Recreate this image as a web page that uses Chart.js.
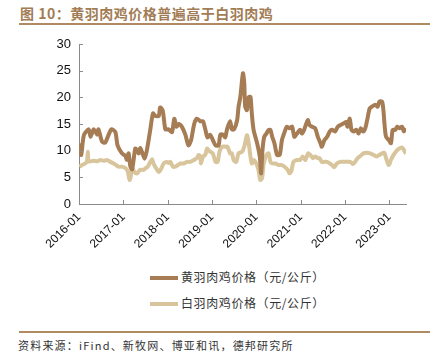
<!DOCTYPE html>
<html><head><meta charset="utf-8">
<script src="https://cdn.jsdelivr.net/npm/chart.js@4.4.0/dist/chart.umd.min.js"></script>
<style>
html,body{margin:0;padding:0;background:#fff;}
body{width:447px;height:362px;position:relative;overflow:hidden;font-family:"Liberation Sans",Arial,sans-serif;}
#title{position:absolute;left:20px;top:3px;font:bold 14px "Noto Sans CJK SC","Liberation Sans",sans-serif;color:#a27c55;letter-spacing:0.5px;white-space:nowrap;}
.rule{position:absolute;left:19px;width:411px;height:2px;background:#b08a63;}
#wrap{position:absolute;left:0;top:0;width:447px;height:262px;}
.leg{position:absolute;left:150px;font:12px "Noto Sans CJK SC",sans-serif;color:#333;white-space:nowrap;letter-spacing:0.6px;}
.leg span.sw{display:inline-block;width:28px;height:4px;vertical-align:middle;margin-right:3px;position:relative;top:-1px;}
#src{position:absolute;left:18px;top:337px;font:11px "Noto Sans CJK SC","Liberation Sans",sans-serif;color:#333;white-space:nowrap;letter-spacing:1.2px;}
</style></head>
<body>
<div id="title">图 10：黄羽肉鸡价格普遍高于白羽肉鸡</div>
<div class="rule" style="top:23px"></div>
<div id="wrap"><canvas id="c" width="447" height="262"></canvas></div>
<div class="leg" style="top:268px"><span class="sw" style="background:#a57c54"></span>黄羽肉鸡价格（元/公斤）</div>
<div class="leg" style="top:294px"><span class="sw" style="background:#d9c59c"></span>白羽肉鸡价格（元/公斤）</div>
<div class="rule" style="top:331px"></div>
<div id="src">资料来源：iFind、新牧网、博亚和讯，德邦研究所</div>
<script>
const seriesNames = ["黄羽肉鸡价格（元/公斤）", "白羽肉鸡价格（元/公斤）"];
const yearTicks = [2016, 2017, 2018, 2019, 2020, 2021, 2022, 2023];
const yTicks = [0, 5, 10, 15, 20, 25, 30];

const yellowX = [2016.01,2016.05,2016.11,2016.22,2016.26,2016.33,2016.41,2016.44,2016.52,2016.59,2016.67,2016.73,2016.82,2016.87,2016.97,2017.05,2017.08,2017.12,2017.16,2017.20,2017.27,2017.31,2017.35,2017.38,2017.42,2017.48,2017.53,2017.61,2017.67,2017.72,2017.80,2017.83,2017.89,2017.95,2018.02,2018.10,2018.15,2018.20,2018.25,2018.32,2018.40,2018.47,2018.53,2018.60,2018.66,2018.74,2018.80,2018.85,2018.90,2018.96,2019.02,2019.08,2019.15,2019.19,2019.25,2019.30,2019.34,2019.41,2019.45,2019.50,2019.57,2019.60,2019.64,2019.70,2019.73,2019.75,2019.79,2019.83,2019.87,2019.90,2019.94,2020.02,2020.08,2020.11,2020.14,2020.18,2020.23,2020.28,2020.32,2020.36,2020.41,2020.47,2020.53,2020.58,2020.63,2020.69,2020.75,2020.81,2020.86,2020.92,2020.99,2021.03,2021.08,2021.13,2021.17,2021.20,2021.26,2021.33,2021.39,2021.45,2021.48,2021.54,2021.60,2021.66,2021.71,2021.78,2021.84,2021.90,2021.97,2022.03,2022.06,2022.11,2022.15,2022.20,2022.26,2022.31,2022.36,2022.41,2022.46,2022.51,2022.56,2022.61,2022.69,2022.74,2022.78,2022.84,2022.87,2022.90,2022.93,2022.99,2023.04,2023.08,2023.14,2023.18,2023.23,2023.29,2023.33,2023.38];
const yellowY = [11.4,9.2,12.9,14,12.6,14,13,14,11.7,11.5,13,14,13.5,11,9.5,9,8.3,9.5,7,6.5,10.4,10,9.5,10.5,9.8,8.5,10,14,17,16.5,16.5,18.1,17.5,14,14,13.5,16,14.5,15,14.5,13,11,12,15,16,15.5,15.5,14,12.5,13,12,11,11,13,13,12.5,14,15.5,14,14,15.75,18.2,20,24.5,22.6,18.25,17.6,20,20.1,17,13.9,11.4,8.9,5.75,10,12.6,13.2,13.9,13.9,12.6,11.4,9.2,9.2,12,13.25,14.5,14.2,14.5,12.6,13.2,13.9,13.2,13.9,15.1,15.75,14.8,14.5,14.2,12.6,11.4,10.75,12,12.6,13.6,13.9,13.6,14.5,14.8,15.1,15.4,14.5,16,13.9,13.6,13.9,13.2,14.2,13.6,14.2,16,17.9,18.25,18.6,18.25,19.2,19.2,17.6,14.5,12.6,12,11.4,13.9,13.9,14.5,14.2,14.5,13.6,14.2];

const whiteX = [2016.01,2016.07,2016.14,2016.18,2016.20,2016.22,2016.33,2016.41,2016.48,2016.56,2016.63,2016.71,2016.78,2016.84,2016.89,2016.97,2017.05,2017.10,2017.14,2017.17,2017.20,2017.25,2017.31,2017.38,2017.46,2017.50,2017.55,2017.61,2017.65,2017.68,2017.74,2017.80,2017.86,2017.91,2017.97,2018.02,2018.06,2018.12,2018.17,2018.23,2018.29,2018.36,2018.44,2018.51,2018.59,2018.66,2018.70,2018.74,2018.75,2018.80,2018.85,2018.89,2018.92,2018.96,2019.02,2019.08,2019.13,2019.17,2019.23,2019.30,2019.35,2019.41,2019.45,2019.49,2019.55,2019.60,2019.68,2019.73,2019.79,2019.83,2019.87,2019.90,2019.94,2020.00,2020.05,2020.09,2020.13,2020.17,2020.23,2020.28,2020.32,2020.36,2020.43,2020.51,2020.58,2020.64,2020.71,2020.75,2020.79,2020.84,2020.92,2020.99,2021.05,2021.11,2021.17,2021.22,2021.28,2021.33,2021.39,2021.43,2021.48,2021.54,2021.60,2021.66,2021.71,2021.76,2021.82,2021.90,2021.97,2022.05,2022.12,2022.18,2022.23,2022.29,2022.35,2022.42,2022.50,2022.57,2022.65,2022.72,2022.78,2022.84,2022.89,2022.93,2022.99,2023.04,2023.10,2023.18,2023.23,2023.29,2023.33,2023.38];
const whiteY = [7,7.3,7.6,8,9.8,8,8.1,8,8.25,8.1,8.25,7.9,7.6,7.3,7,7,6.7,6.1,4.5,5.2,6.7,6,5.75,6.4,6.4,6.7,7,7.9,8.4,7.6,6.7,6,6.7,7.6,7.9,7.7,7.9,7,7,7.3,7.6,7.6,7.9,7.9,8.25,8.6,9.2,8.9,7.6,8.9,9.2,10.4,10.1,9.8,9.5,7.9,7.9,9.8,10.75,10.75,10.75,9.5,9.5,8.25,7.9,9.5,9.8,10.75,12.9,11.4,8.9,7.6,8.25,7.6,6.4,4.5,4.8,7.6,9.2,9.5,7.9,7.6,7.6,7.3,7.3,7,6.4,5.75,6.1,7.9,8.25,8.25,8.9,8.25,9.5,9.2,8.6,8.9,8.6,8.6,7.9,7.9,7.9,7.6,7.3,6.9,7.6,7.9,7.9,7.9,7.9,7.5,7.9,8.6,9,9.5,9.6,9.5,9.2,8.9,9.2,9.5,9.6,8.6,7.3,8.25,9.2,10.1,10.4,10.6,10.2,9.4];

const xMin = 2016, xMax = 2023.38;
const toPts = (xs, ys) => xs.map((x, i) => ({x: x, y: ys[i]}));

const inwardTicks = {
  id: 'inwardTicks',
  afterDraw(chart) {
    const {ctx, chartArea, scales} = chart;
    ctx.save();
    ctx.strokeStyle = '#8a8a8a';
    ctx.lineWidth = 1;
    ctx.beginPath();
    yearTicks.forEach(v => {
      const px = Math.round(scales.x.getPixelForValue(v)) + 0.5;
      ctx.moveTo(px, chartArea.bottom);
      ctx.lineTo(px, chartArea.bottom - 4);
    });
    yTicks.forEach(v => {
      const py = Math.round(scales.y.getPixelForValue(v)) + 0.5;
      ctx.moveTo(chartArea.left, py);
      ctx.lineTo(chartArea.left + 4, py);
    });
    ctx.stroke();
    ctx.restore();
  }
};

new Chart(document.getElementById('c'), {
  type: 'line',
  data: {
    datasets: [
      {label: seriesNames[0], data: toPts(yellowX, yellowY), borderColor: '#a57c54', borderWidth: 4, pointRadius: 0, tension: 0.25, fill: false},
      {label: seriesNames[1], data: toPts(whiteX, whiteY), borderColor: '#d9c59c', borderWidth: 4, pointRadius: 0, tension: 0.25, fill: false}
    ]
  },
  options: {
    responsive: false,
    animation: false,
    layout: {padding: {top: 44, right: 41, left: 0, bottom: 0}},
    plugins: {legend: {display: false}, tooltip: {enabled: false}},
    scales: {
      x: {
        type: 'linear', min: xMin, max: xMax,
        grid: {display: false, drawTicks: false},
        border: {display: true, color: '#8a8a8a', width: 1},
        afterBuildTicks: s => { s.ticks = yearTicks.map(v => ({value: v})); },
        afterFit: s => { s.height = 58; },
        ticks: {
          autoSkip: false, minRotation: 45, maxRotation: 45, padding: 6,
          color: '#111', font: {family: 'Liberation Sans', size: 12},
          callback: v => v + '-01'
        }
      },
      y: {
        min: 0, max: 30,
        grid: {display: false, drawTicks: false},
        border: {display: true, color: '#8a8a8a', width: 1},
        afterBuildTicks: s => { s.ticks = yTicks.map(v => ({value: v})); },
        afterFit: s => { s.width = 79; },
        ticks: {padding: 8, color: '#111', font: {family: 'Liberation Sans', size: 13}}
      }
    }
  },
  plugins: [inwardTicks]
});
</script>
</body></html>
